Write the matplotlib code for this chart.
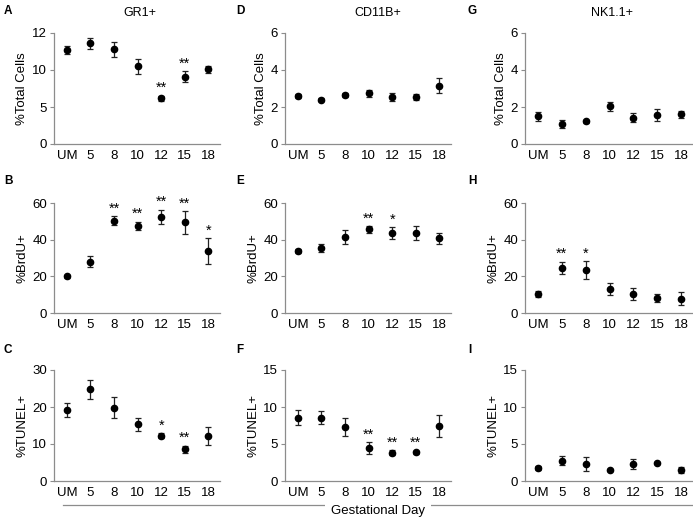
import matplotlib
matplotlib.use("Agg")
import matplotlib.pyplot as plt
from matplotlib.lines import Line2D

plt.rcParams.update({
    "font.family": ["Liberation Sans", "DejaVu Sans"],
    "font.size": 9,
    "axes.spines.top": False, "axes.spines.right": False,
    "axes.edgecolor": "#8c8c8c", "axes.linewidth": 0.9,
})

days = ["UM", "5", "8", "10", "12", "15", "18"]

# GR1+
gr1_total = [12.7, 13.6, 12.8, 10.5, 6.2, 9.1, 10.1]
gr1_total_err = [0.5, 0.7, 1.0, 1.05, 0.35, 0.7, 0.45]
gr1_total_sig = ["", "", "", "", "**", "**", ""]
gr1_brdu = [20.1, 28.0, 50.3, 47.4, 52.4, 49.4, 33.8]
gr1_brdu_err = [0.8, 3.0, 2.4, 2.3, 4.0, 6.1, 6.9]
gr1_brdu_sig = ["", "", "**", "**", "**", "**", "*"]
gr1_tunel = [19.2, 24.8, 19.8, 15.3, 12.2, 8.6, 12.2]
gr1_tunel_err = [1.8, 2.6, 2.8, 1.7, 0.7, 0.9, 2.4]
gr1_tunel_sig = ["", "", "", "", "*", "**", ""]

# CD11B+
cd11b_total = [2.61, 2.40, 2.63, 2.74, 2.54, 2.54, 3.15]
cd11b_total_err = [0.1, 0.08, 0.1, 0.2, 0.22, 0.17, 0.4]
cd11b_total_sig = [""] * 7
cd11b_brdu = [34.0, 35.6, 41.6, 45.6, 43.4, 43.4, 40.7]
cd11b_brdu_err = [1.0, 2.1, 3.8, 1.8, 3.3, 3.8, 3.2]
cd11b_brdu_sig = ["", "", "", "**", "*", "", ""]
cd11b_tunel = [8.56, 8.56, 7.34, 4.41, 3.83, 3.87, 7.43]
cd11b_tunel_err = [0.97, 0.85, 1.2, 0.8, 0.35, 0.2, 1.46]
cd11b_tunel_sig = ["", "", "", "**", "**", "**", ""]

# NK1.1+
nk_total = [1.49, 1.08, 1.22, 2.03, 1.43, 1.58, 1.61]
nk_total_err = [0.22, 0.22, 0.08, 0.22, 0.22, 0.31, 0.2]
nk_total_sig = [""] * 7
nk_brdu = [10.4, 24.7, 23.4, 13.2, 10.4, 8.1, 7.7]
nk_brdu_err = [1.5, 3.3, 4.7, 3.3, 3.2, 2.0, 3.5]
nk_brdu_sig = ["", "**", "*", "", "", "", ""]
nk_tunel = [1.8, 2.75, 2.3, 1.49, 2.3, 2.48, 1.49]
nk_tunel_err = [0.25, 0.6, 0.9, 0.1, 0.65, 0.15, 0.45]
nk_tunel_sig = [""] * 7

titles = ["GR1+", "CD11B+", "NK1.1+"]
ylabels = ["%Total Cells", "%BrdU+", "%TUNEL+"]
letters = [["A", "B", "C"], ["D", "E", "F"], ["G", "H", "I"]]
panels = [
    [(gr1_total, gr1_total_err, gr1_total_sig), (gr1_brdu, gr1_brdu_err, gr1_brdu_sig),
     (gr1_tunel, gr1_tunel_err, gr1_tunel_sig)],
    [(cd11b_total, cd11b_total_err, cd11b_total_sig), (cd11b_brdu, cd11b_brdu_err, cd11b_brdu_sig),
     (cd11b_tunel, cd11b_tunel_err, cd11b_tunel_sig)],
    [(nk_total, nk_total_err, nk_total_sig), (nk_brdu, nk_brdu_err, nk_brdu_sig),
     (nk_tunel, nk_tunel_err, nk_tunel_sig)],
]
yticks = [
    [[0, 5, 10, 15], [0, 20, 40, 60], [0, 10, 20, 30]],
    [[0, 2, 4, 6], [0, 20, 40, 60], [0, 5, 10, 15]],
    [[0, 2, 4, 6], [0, 20, 40, 60], [0, 5, 10, 15]],
]
# panel A's top tick reads "12" in the original figure
yticklabels_A = ["0", "5", "10", "12"]

W, H = 693, 519
col_x = [(54, 220), (285, 451), (525, 693)]
row_y = [(33, 144), (203, 313), (370, 481)]
title_x = [140, 378, 612]
letter_x = [4, 236, 468]
letter_y = [11, 181, 350]

fig = plt.figure(figsize=(W / 100, H / 100), dpi=100)

for c in range(3):
    x0, x1 = col_x[c]
    for r in range(3):
        y0, y1 = row_y[r]
        ax = fig.add_axes([x0 / W, 1 - y1 / H, (x1 - x0) / W, (y1 - y0) / H])
        vals, errs, sig = panels[c][r]
        xs = list(range(len(days)))
        ax.errorbar(xs, vals, yerr=errs, fmt="o", color="black", ecolor="#222222",
                    markersize=4.5, elinewidth=0.9, capsize=2.5, capthick=0.9)
        for i, s in enumerate(sig):
            if s:
                ax.annotate(s, (xs[i], vals[i] + errs[i]), xytext=(0, 0.5),
                            textcoords="offset points", ha="center", va="bottom",
                            fontsize=10.5)
        tk = yticks[c][r]
        ax.set_ylim(tk[0], tk[-1])
        ax.set_yticks(tk)
        if c == 0 and r == 0:
            ax.set_yticklabels(yticklabels_A)
        ax.set_xlim(-0.55, 6.5)
        ax.set_xticks(xs)
        ax.set_xticklabels(days)
        ax.tick_params(axis="x", length=0, pad=4, labelsize=9.5)
        ax.tick_params(axis="y", length=3, width=0.8, color="#8c8c8c", pad=2, labelsize=9.5)
        ax.set_ylabel(ylabels[r], fontsize=9.5, labelpad=3)
        for sp in ax.spines.values():
            sp.set_clip_on(False)
        fig.text(letter_x[c] / W, 1 - letter_y[r] / H, letters[c][r], fontsize=8.5,
                 fontweight="bold", ha="left", va="center")
    fig.text(title_x[c] / W, 1 - 13 / H, titles[c], fontsize=9, ha="center", va="center")

# shared x label with rule
fig.add_artist(Line2D([63 / W, 692 / W], [1 - 505 / H, 1 - 505 / H], color="#8c8c8c", lw=0.9))
fig.text(378 / W, 1 - 511 / H, "Gestational Day", fontsize=9.5, ha="center", va="center",
         bbox=dict(facecolor="white", edgecolor="none", pad=4))

fig.savefig("out.png", dpi=100)
